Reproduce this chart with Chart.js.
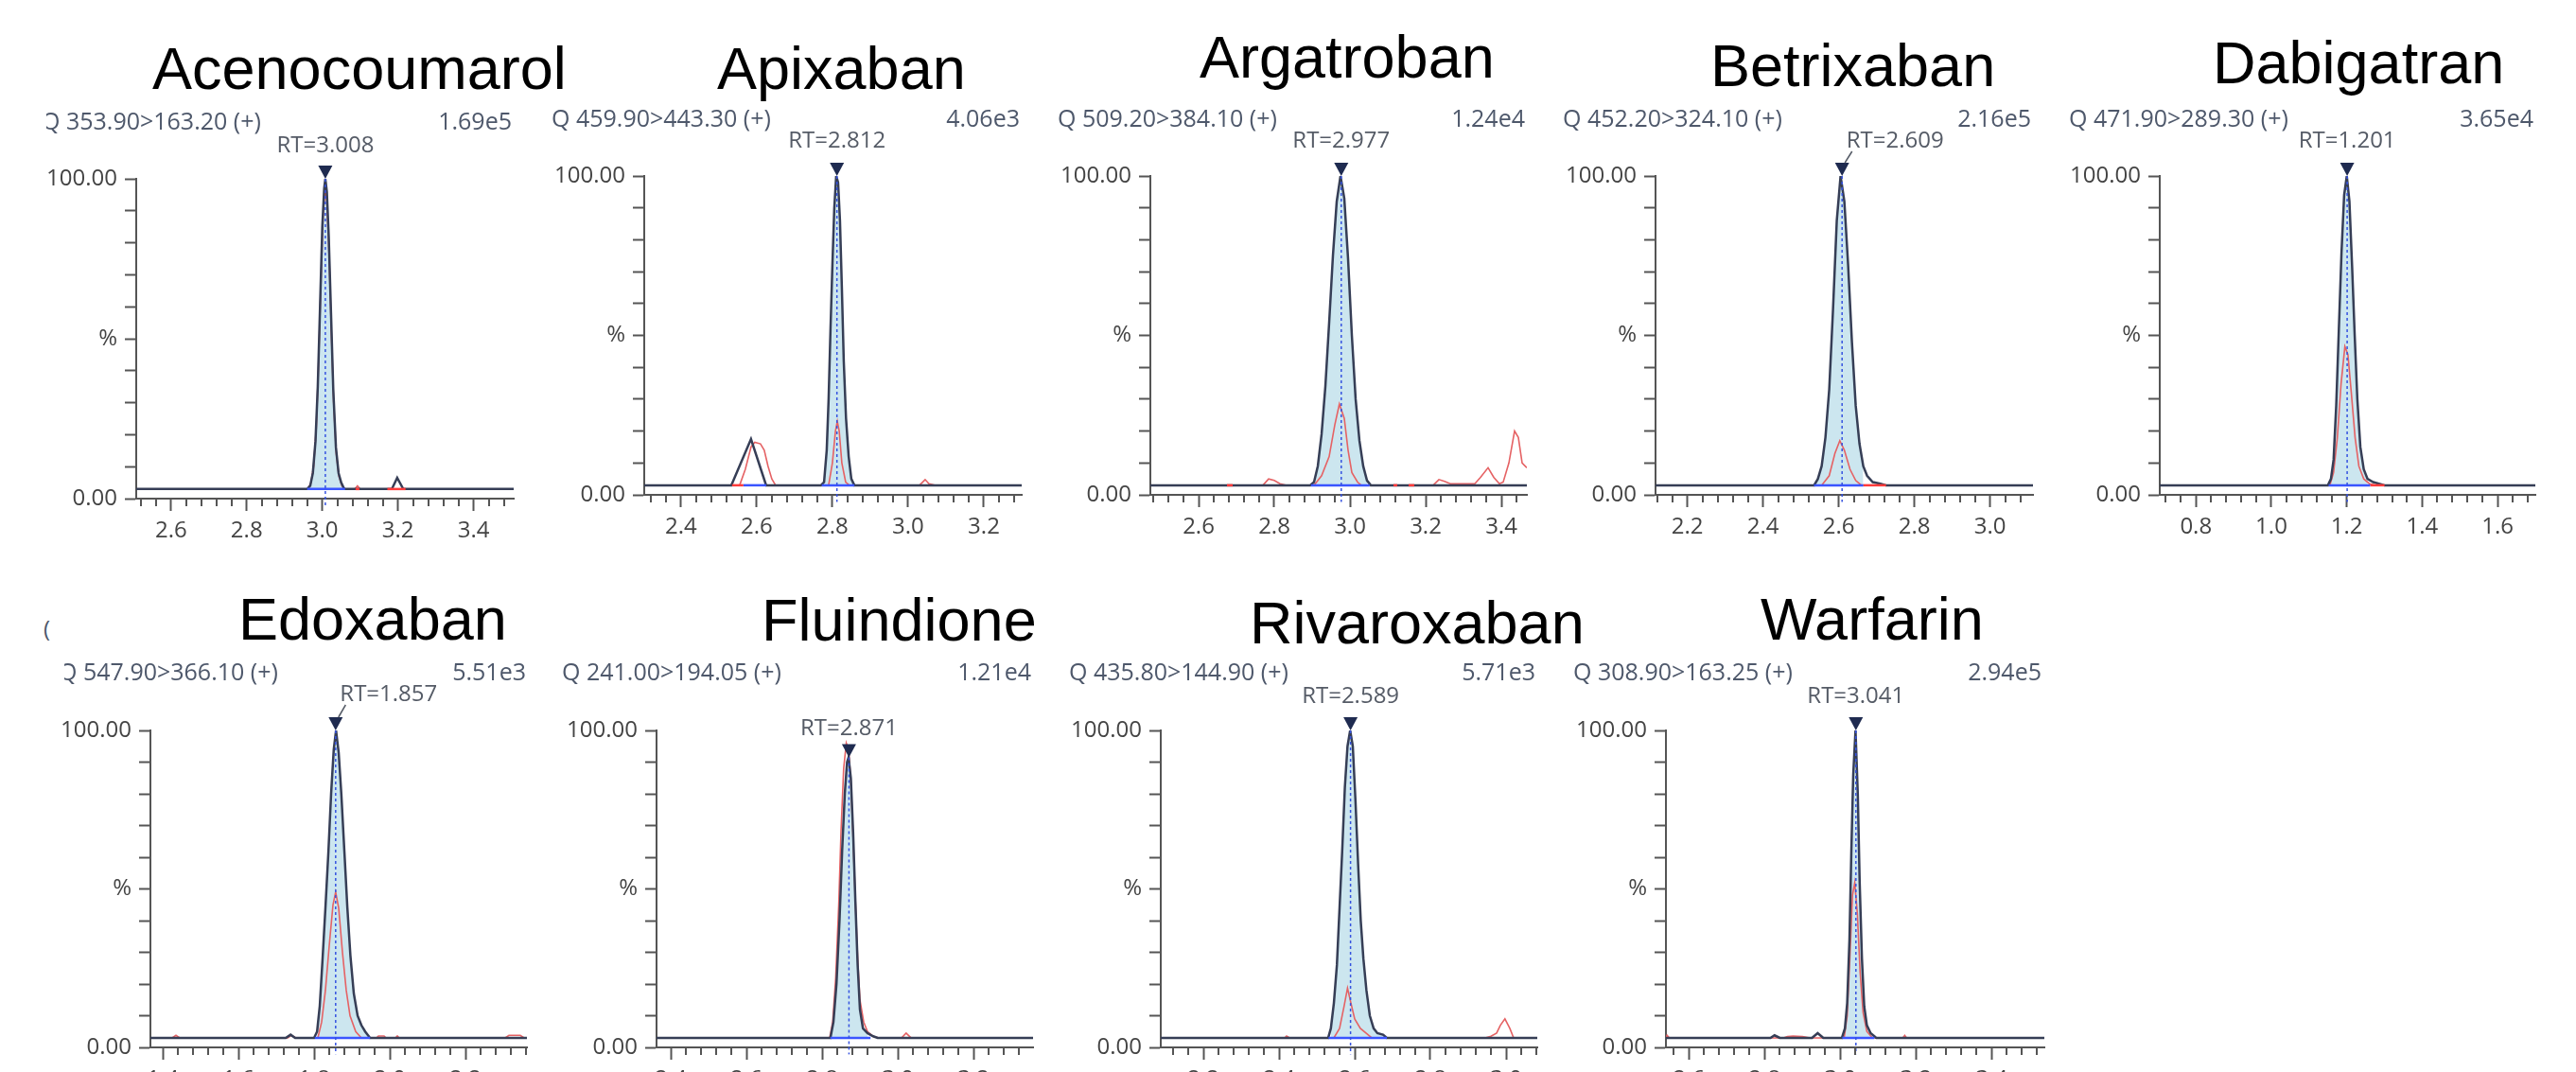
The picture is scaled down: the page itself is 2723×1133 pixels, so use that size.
<!DOCTYPE html>
<html>
<head>
<meta charset="utf-8">
<script src="https://cdn.jsdelivr.net/npm/chart.js@4.4.1/dist/chart.umd.min.js"></script>
<style>
  html, body { margin: 0; padding: 0; width: 2723px; height: 1133px; overflow: hidden; background: #fff; }
  canvas { position: absolute; }
  .titulo { position: absolute; font-family: "Liberation Sans", Arial, sans-serif; font-size: 63px; line-height: 63px; color: #000; white-space: nowrap; z-index: 5; }
  .suelto { position: absolute; font-family: "Open Sans", sans-serif; font-size: 24px; line-height: 24px; color: #4e586b; }
</style>
</head>
<body>
<script>
/* ============================================
   Cromatogramas MRM - 9 anticoagulantes
   ============================================ */

// ---- datos ----
const titles = ['Acenocoumarol', 'Apixaban', 'Argatroban', 'Betrixaban', 'Dabigatran',
  'Edoxaban', 'Fluindione', 'Rivaroxaban', 'Warfarin'];
const channels = ['Q 353.90>163.20 (+)', 'Q 459.90>443.30 (+)', 'Q 509.20>384.10 (+)',
  'Q 452.20>324.10 (+)', 'Q 471.90>289.30 (+)', 'Q 547.90>366.10 (+)',
  'Q 241.00>194.05 (+)', 'Q 435.80>144.90 (+)', 'Q 308.90>163.25 (+)'];
const intensities = ['1.69e5', '4.06e3', '1.24e4', '2.16e5', '3.65e4', '5.51e3', '1.21e4', '5.71e3', '2.94e5'];
const retentionTimes = [3.008, 2.812, 2.977, 2.609, 1.201, 1.857, 2.871, 2.589, 3.041];
const apexValues = [100, 100, 100, 100, 100, 100, 91.5, 100, 100];
const xMins = [2.508, 2.303, 2.4725, 2.116, 0.704, 1.3675, 2.3625, 2.0875, 2.539];
const xMaxs = [3.506, 3.300, 3.4675, 3.1135, 1.700, 2.3625, 3.3575, 3.0825, 3.539];
const majorTicks = [
  [2.6, 2.8, 3.0, 3.2, 3.4],
  [2.4, 2.6, 2.8, 3.0, 3.2],
  [2.6, 2.8, 3.0, 3.2, 3.4],
  [2.2, 2.4, 2.6, 2.8, 3.0],
  [0.8, 1.0, 1.2, 1.4, 1.6],
  [1.4, 1.6, 1.8, 2.0, 2.2],
  [2.4, 2.6, 2.8, 3.0, 3.2],
  [2.2, 2.4, 2.6, 2.8, 3.0],
  [2.6, 2.8, 3.0, 3.2, 3.4]
];
const baselineLevel = 3;

const acenocoumarolDark = [[2.508,3],[2.960,3],[2.968,4],[2.975,8],[2.982,18],[2.988,35],[2.994,60],[3.000,85],[3.005,97],[3.008,100],[3.012,96],[3.017,82],[3.023,58],[3.029,34],[3.036,16],[3.043,8],[3.050,5],[3.058,3],[3.184,3],[3.198,6.5],[3.214,3],[3.506,3]];
const acenocoumarolRed = [[2.508,3],[2.962,3],[2.970,5],[2.977,10],[2.984,22],[2.990,42],[2.996,66],[3.002,88],[3.007,97],[3.012,93],[3.018,76],[3.024,52],[3.030,30],[3.037,14],[3.044,7],[3.052,4],[3.060,3],[3.086,3],[3.093,4],[3.100,3],[3.506,3]];

const apixabanDark = [[2.303,3],[2.533,3],[2.585,17.5],[2.625,3],[2.770,3],[2.778,4],[2.785,14],[2.790,30],[2.795,52],[2.800,72],[2.805,90],[2.810,100],[2.815,98],[2.820,86],[2.825,65],[2.830,42],[2.836,24],[2.843,12],[2.850,5],[2.858,3],[3.300,3]];
const apixabanRed = [[2.303,3],[2.555,3],[2.570,8],[2.585,15],[2.595,16.5],[2.610,16],[2.620,14],[2.630,9],[2.640,5],[2.650,3],[2.790,3],[2.800,10],[2.808,20],[2.813,23],[2.818,20],[2.825,10],[2.835,4],[2.845,3],[3.030,3],[3.045,4.8],[3.055,3.5],[3.070,3],[3.300,3]];

const argatrobanDark = [[2.4725,3],[2.895,3],[2.905,4],[2.915,9],[2.925,19],[2.935,34],[2.945,54],[2.955,75],[2.965,92],[2.975,100],[2.985,93],[2.995,74],[3.005,50],[3.015,30],[3.025,17],[3.035,9],[3.045,4.5],[3.055,3],[3.4675,3]];
const argatrobanRed = [[2.4725,3],[2.770,3],[2.785,5],[2.800,4.5],[2.815,3.5],[2.830,3],[2.905,3],[2.925,6],[2.945,12],[2.960,22],[2.972,28.5],[2.985,24],[2.995,14],[3.005,7],[3.020,4],[3.030,3],[3.220,3],[3.235,4.8],[3.250,4.2],[3.265,3.5],[3.300,3.5],[3.330,3.5],[3.345,5.5],[3.365,8.5],[3.380,5.5],[3.395,3.5],[3.405,4],[3.420,10],[3.435,20],[3.445,18],[3.455,10],[3.4675,8.5]];

const betrixabanDark = [[2.116,3],[2.535,3],[2.545,5],[2.555,9],[2.565,18],[2.575,33],[2.585,58],[2.595,86],[2.605,100],[2.615,92],[2.625,72],[2.635,48],[2.645,28],[2.655,16],[2.665,9],[2.675,6],[2.690,4],[2.710,3.5],[2.725,3],[3.1135,3]];
const betrixabanRed = [[2.116,3],[2.555,3],[2.575,6],[2.590,13],[2.603,17],[2.615,14],[2.630,8],[2.645,4.5],[2.660,3],[3.1135,3]];

const dabigatranDark = [[0.704,3],[1.150,3],[1.158,5],[1.165,11],[1.172,28],[1.179,52],[1.186,76],[1.193,94],[1.200,100],[1.207,92],[1.214,72],[1.221,50],[1.228,30],[1.236,15],[1.245,8],[1.255,5],[1.270,4],[1.285,3.5],[1.300,3],[1.700,3]];
const dabigatranRed = [[0.704,3],[1.155,3],[1.165,7],[1.175,18],[1.185,35],[1.195,46.5],[1.203,44],[1.212,32],[1.222,18],[1.232,9],[1.245,5],[1.260,3.5],[1.275,3],[1.700,3]];

const edoxabanDark = [[1.3675,3],[1.725,3],[1.738,4],[1.750,3],[1.800,3],[1.808,5],[1.815,13],[1.822,27],[1.830,44],[1.838,62],[1.845,80],[1.852,94],[1.858,100],[1.865,93],[1.872,80],[1.880,62],[1.888,44],[1.896,29],[1.905,17],[1.915,10],[1.925,7],[1.935,5],[1.948,3],[2.3625,3]];
const edoxabanRed = [[1.3675,3],[1.425,3],[1.435,3.8],[1.445,3],[1.730,3],[1.740,3.8],[1.752,3],[1.810,3],[1.820,8],[1.830,18],[1.840,32],[1.850,45],[1.857,49],[1.865,44],[1.875,30],[1.885,18],[1.895,10],[1.910,5],[1.925,3],[1.965,3],[1.970,3.6],[1.985,3.6],[1.990,3],[2.015,3],[2.020,3.6],[2.025,3],[2.305,3],[2.315,3.8],[2.345,3.8],[2.355,3],[2.3625,3]];

const fluindioneDark = [[2.3625,3],[2.822,3],[2.830,8],[2.838,20],[2.846,40],[2.853,62],[2.860,80],[2.866,90],[2.870,91.5],[2.876,85],[2.882,68],[2.888,46],[2.894,26],[2.900,12],[2.908,6],[2.920,4.5],[2.935,3.5],[2.947,3],[3.3575,3]];
const fluindioneRed = [[2.3625,3],[2.820,3],[2.828,8],[2.836,22],[2.844,45],[2.850,68],[2.857,88],[2.864,96],[2.870,94],[2.876,84],[2.882,66],[2.888,46],[2.894,28],[2.900,15],[2.910,8],[2.920,5],[2.935,3.5],[2.950,3],[3.010,3],[3.022,4.5],[3.035,3],[3.3575,3]];

const rivaroxabanDark = [[2.0875,3],[2.530,3],[2.537,6],[2.545,14],[2.553,26],[2.560,44],[2.567,62],[2.574,82],[2.581,95],[2.588,100],[2.595,95],[2.602,78],[2.609,58],[2.616,40],[2.623,28],[2.631,18],[2.640,10],[2.650,6],[2.660,4.5],[2.675,4],[2.685,3],[3.0825,3]];
const rivaroxabanRed = [[2.0875,3],[2.415,3],[2.420,3.6],[2.428,3],[2.545,3],[2.560,6],[2.572,13],[2.581,18.7],[2.590,14],[2.600,9],[2.615,6],[2.630,4.5],[2.645,3],[2.945,3],[2.960,3.5],[2.975,4.5],[2.985,7],[2.997,9],[3.010,6],[3.020,3],[3.0825,3]];

const warfarinDark = [[2.539,3],[2.815,3],[2.826,3.8],[2.840,3],[2.925,3],[2.940,4.5],[2.955,3],[3.004,3],[3.012,6],[3.018,14],[3.024,34],[3.029,62],[3.034,86],[3.040,100],[3.046,80],[3.051,52],[3.057,28],[3.063,13],[3.070,7],[3.080,4.5],[3.095,3],[3.539,3]];
const warfarinRed = [[2.539,3],[2.542,3.8],[2.548,3],[2.850,3],[2.860,3.4],[2.875,3.6],[2.900,3.4],[2.920,3],[3.010,3],[3.018,10],[3.025,28],[3.032,48],[3.038,52],[3.045,42],[3.052,24],[3.060,11],[3.070,5],[3.085,3],[3.165,3],[3.170,3.8],[3.175,3],[3.539,3]];

const darkTraces = [acenocoumarolDark, apixabanDark, argatrobanDark, betrixabanDark, dabigatranDark,
  edoxabanDark, fluindioneDark, rivaroxabanDark, warfarinDark];
const redTraces = [acenocoumarolRed, apixabanRed, argatrobanRed, betrixabanRed, dabigatranRed,
  edoxabanRed, fluindioneRed, rivaroxabanRed, warfarinRed];

// integracion: pico principal (azul) y segmentos del qualifier (rojo)
const peakWindows = [[2.960, 3.060], [2.772, 2.858], [2.897, 3.052], [2.535, 2.665], [1.152, 1.262],
  [1.802, 1.948], [2.822, 2.928], [2.531, 2.685], [3.005, 3.090]];
const extraBlue = [[], [[2.565, 2.625]], [], [], [], [], [], [], []];
const redSegments = [
  [[3.172, 3.220], [3.088, 3.098]],
  [[2.535, 2.565]],
  [[2.675, 2.690], [3.115, 3.125], [3.155, 3.170]],
  [[2.665, 2.725]],
  [[1.262, 1.300]],
  [],
  [],
  [],
  []
];

// ---- disposicion (px de la pagina) ----
const axisLeft = [144, 681, 1216, 1750, 2283, 159, 694, 1227, 1761];
const axisRight = [543, 1080, 1614, 2149, 2680, 557, 1092, 1625, 2161];
const plotTop = [189, 186, 186, 186, 186, 772, 772, 772, 772];
const plotBottom = [527, 523, 523, 523, 523, 1107, 1107, 1107, 1107];
const headerX = [44, 583, 1118, 1652, 2187, 62, 594, 1130, 1663];
const headerClip = [49, 0, 0, 0, 0, 68, 0, 0, 0];
const headerRight = [541, 1078, 1612, 2147, 2678, 556, 1090, 1623, 2158];
const headerY = [130, 127, 127, 127, 127, 712, 712, 712, 712];
const labelDx = [0, 0, 0, 56, 0, 56, 0, 0, 0];
const labelDy = [-35, -37, -37, -37, -37, -38, -30, -36, -36];
const titleX = [161, 758, 1268, 1808, 2339, 252, 805, 1321, 1861];
const titleBase = [94, 94, 82, 91, 88, 676, 677, 680, 676];

const fuente = '"Open Sans", "Noto Sans", sans-serif';

const decoracion = {
  id: 'decoracion',
  afterDatasetsDraw(chart, args, opts) {
    const i = opts.panel;
    const { ctx, chartArea } = chart;
    const x = chart.scales.x;
    const y = chart.scales.y;
    const left = opts.left;
    const top = opts.top;

    // ticks menores del eje x (cada 0.04)
    ctx.save();
    ctx.strokeStyle = '#555';
    ctx.lineWidth = 2;
    for (let k = Math.ceil(xMins[i] / 0.04); k * 0.04 <= xMaxs[i]; k++) {
      const v = k * 0.04;
      if (Math.abs(v / 0.2 - Math.round(v / 0.2)) < 1e-6) continue;
      const px = Math.round(x.getPixelForValue(v));
      ctx.beginPath();
      ctx.moveTo(px, chartArea.bottom);
      ctx.lineTo(px, chartArea.bottom + 8);
      ctx.stroke();
    }
    ctx.restore();

    // triangulo del pico
    const px = x.getPixelForValue(retentionTimes[i]);
    const py = y.getPixelForValue(apexValues[i]);
    ctx.save();
    ctx.fillStyle = '#1f2b50';
    ctx.beginPath();
    ctx.moveTo(px - 7.5, py - 14);
    ctx.lineTo(px + 7.5, py - 14);
    ctx.lineTo(px, py);
    ctx.closePath();
    ctx.fill();

    // etiqueta RT
    ctx.font = '24px ' + fuente;
    ctx.fillStyle = '#555b66';
    ctx.textAlign = 'center';
    ctx.textBaseline = 'middle';
    const lx = px + labelDx[i];
    const ly = py + labelDy[i];
    const rtText = 'RT=' + retentionTimes[i].toFixed(3);
    ctx.fillText(rtText, lx, ly);
    if (labelDx[i]) {
      const w = ctx.measureText(rtText).width;
      ctx.strokeStyle = '#555b66';
      ctx.lineWidth = 1.5;
      ctx.beginPath();
      ctx.moveTo(px + 3, py - 14);
      ctx.lineTo(lx - w / 2 + 6, ly + 11);
      ctx.stroke();
    }

    // cabecera: canal e intensidad
    ctx.font = '25px ' + fuente;
    ctx.fillStyle = '#4e586b';
    ctx.textAlign = 'left';
    ctx.save();
    if (headerClip[i]) {
      ctx.beginPath();
      ctx.rect(headerClip[i] - left, 0, 400, chart.height);
      ctx.clip();
    }
    ctx.fillText(channels[i], headerX[i] - left, headerY[i] - top);
    ctx.restore();
    ctx.textAlign = 'right';
    ctx.fillText(intensities[i], headerRight[i] - left, headerY[i] - top);
    ctx.restore();
  }
};

function segmento(a, b, color, width) {
  return {
    data: [{ x: a, y: baselineLevel }, { x: b, y: baselineLevel }],
    borderColor: color,
    borderWidth: width,
    pointRadius: 0,
    fill: false,
    order: 1,
  };
}

function crearPanel(i) {
  const left = axisLeft[i] - 120;
  const top = headerY[i] - 30;
  const padTop = plotTop[i] - top;
  const width = axisRight[i] - left + 20;
  const height = padTop + (plotBottom[i] - plotTop[i]) + 60;

  const canvas = document.createElement('canvas');
  canvas.width = width;
  canvas.height = height;
  canvas.style.left = left + 'px';
  canvas.style.top = top + 'px';
  document.body.appendChild(canvas);

  const toXY = (p) => ({ x: p[0], y: p[1] });
  const win = peakWindows[i];
  const peakFill = darkTraces[i].filter((p) => p[0] >= win[0] - 1e-9 && p[0] <= win[1] + 1e-9).map(toXY);

  const datasets = [
    {
      data: [{ x: retentionTimes[i], y: apexValues[i] }, { x: retentionTimes[i], y: -2.2 }],
      borderColor: '#3552e0',
      borderWidth: 1.5,
      borderDash: [3, 3],
      pointRadius: 0,
      fill: false,
      clip: false,
      order: 0,
    },
    segmento(win[0], win[1], '#3a55ff', 2.5),
    {
      data: darkTraces[i].map(toXY),
      borderColor: '#363e56',
      borderWidth: 2.5,
      pointRadius: 0,
      tension: 0,
      fill: false,
      order: 2,
    },
    {
      data: redTraces[i].map(toXY),
      borderColor: '#e56264',
      borderWidth: 1.6,
      pointRadius: 0,
      tension: 0,
      fill: false,
      order: 3,
    },
    {
      data: peakFill,
      borderWidth: 0,
      borderColor: 'rgba(0,0,0,0)',
      backgroundColor: '#cce6ef',
      pointRadius: 0,
      tension: 0,
      fill: { value: baselineLevel },
      order: 4,
    },
  ];
  extraBlue[i].forEach((s) => datasets.push(segmento(s[0], s[1], '#3a55ff', 2.5)));
  redSegments[i].forEach((s) => datasets.push(segmento(s[0], s[1], '#ff3b3b', 2.5)));

  const tickFont = { family: fuente, size: 24 };

  new Chart(canvas, {
    type: 'line',
    data: { datasets },
    plugins: [decoracion],
    options: {
      responsive: false,
      animation: false,
      devicePixelRatio: 1,
      events: [],
      layout: { padding: { top: padTop, right: 20, left: 0, bottom: 0 }, autoPadding: false },
      plugins: {
        legend: { display: false },
        tooltip: { enabled: false },
        decoracion: { panel: i, left, top },
      },
      scales: {
        x: {
          type: 'linear',
          min: xMins[i],
          max: xMaxs[i],
          afterBuildTicks: (scale) => {
            scale.ticks = majorTicks[i].map((v) => ({ value: v }));
          },
          afterFit: (scale) => {
            scale.height = 60;
          },
          grid: { drawOnChartArea: false, drawTicks: true, tickLength: 13, tickColor: '#555', tickWidth: 2 },
          border: { display: true, color: '#555', width: 2 },
          ticks: {
            autoSkip: false,
            maxRotation: 0,
            padding: 7,
            color: '#444',
            font: tickFont,
            callback: (v) => Number(v).toFixed(1),
          },
        },
        y: {
          min: 0,
          max: 100,
          afterFit: (scale) => {
            scale.width = 120;
          },
          grid: { drawOnChartArea: false, drawTicks: true, tickLength: 12, tickColor: '#555', tickWidth: 2 },
          border: { display: true, color: '#555', width: 2 },
          ticks: {
            stepSize: 10,
            autoSkip: false,
            padding: 8,
            color: '#444',
            font: tickFont,
            callback: (v) => (v === 100 ? '100.00' : v === 50 ? '%' : v === 0 ? '0.00' : ''),
          },
        },
      },
    },
  });
}

titles.forEach((t, i) => {
  const div = document.createElement('div');
  div.className = 'titulo';
  div.textContent = t;
  div.style.left = titleX[i] + 'px';
  div.style.top = (titleBase[i] - 53) + 'px';
  document.body.appendChild(div);
  crearPanel(i);
});

// resto de un caracter recortado a la izquierda de la fila inferior
const suelto = document.createElement('div');
suelto.className = 'suelto';
suelto.textContent = '(';
suelto.style.left = '46px';
suelto.style.top = '652px';
document.body.appendChild(suelto);
</script>
</body>
</html>
